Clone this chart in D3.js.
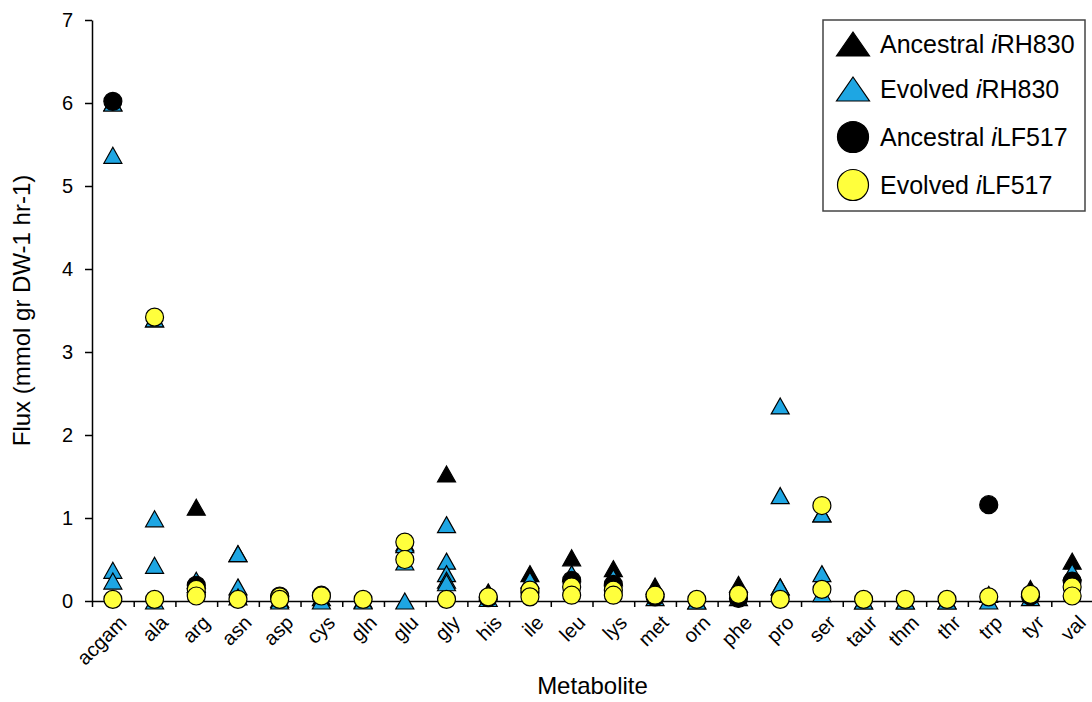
<!DOCTYPE html>
<html lang="en">
<head>
<meta charset="utf-8">
<title>Metabolite flux</title>
<script src="https://d3js.org/d3.v7.min.js"></script>
<style>
  body { margin: 0; background: #fff; }
  svg { font-family: "Liberation Sans", Arial, sans-serif; }
  .axis path, .axis line { stroke: #000; stroke-width: 1.5px; }
  .axis text { fill: #000; }
</style>
</head>
<body>
<svg width="1092" height="702"></svg>
<script>
// metabolites on the x axis
const categories = ["acgam","ala","arg","asn","asp","cys","gln","glu","gly","his","ile","leu",
                    "lys","met","orn","phe","pro","ser","taur","thm","thr","trp","tyr","val"];

// each entry = list of flux values at that metabolite (several conditions per model)
const ancestralRH = [[6.0],[3.40],[1.13,0.20],[0.57],[0.02],[0.04],[0.01],[0.70],[1.53],[0.11],[0.33],[0.52],
                     [0.39],[0.18],[0.0],[0.20],[0.17],[1.05],[0.0],[0.0],[0.0],[0.08],[0.15],[0.48]];
const evolvedRH   = [[6.0,5.37,0.37,0.24],[3.40,0.99,0.43,0.0],[0.25],[0.57,0.17,0.05],[0.0],[0.0],[0.0],
                     [0.68,0.47,0.0],[0.92,0.48,0.33,0.25,0.22],[0.03],[0.25],[0.33],[0.28],[0.04],[0.0],
                     [0.04],[2.35,1.27,0.17],[1.05,0.33,0.09],[0.0],[0.0],[0.0],[0.0],[0.04],[0.35]];
const ancestralLF = [[6.02],[],[0.19,0.08],[],[0.06],[0.07],[],[],[],[0.04],[0.10],[0.25],
                     [0.20],[0.05],[],[0.03],[],[],[],[],[],[1.16],[0.06],[0.24]];
const evolvedLF   = [[0.02],[3.42,0.02],[0.14,0.06],[0.02],[0.05,0.02],[0.06],[0.02],[0.71,0.50],[0.02],
                     [0.05],[0.13,0.05],[0.17,0.07],[0.13,0.07],[0.07],[0.02],[0.08],[0.02],[1.15,0.14],
                     [0.02],[0.02],[0.02],[0.05],[0.08],[0.17,0.06]];

const yTicks = [0,1,2,3,4,5,6,7];

const seriesNames = ["Ancestral ", "Evolved ", "Ancestral ", "Evolved "];
const seriesModels = ["RH830", "RH830", "LF517", "LF517"];

const svg = d3.select("svg");
const plotL = 92, plotR = 1093, plotT = 20, plotB = 601;

const x = d3.scaleBand().domain(categories).range([plotL, plotR]);
const xIdx = d3.scaleLinear().domain([0, categories.length]).range([plotL, plotR]);
const y = d3.scaleLinear().domain([0, 7]).range([plotB, plotT]);

// marker shapes
const triPath = (w, h) => `M0,${-h/2}L${w/2},${h/2}L${-w/2},${h/2}Z`;
const styles = [
  {shape: "tri", fill: "#000"},
  {shape: "tri", fill: "#1ea6e3"},
  {shape: "circ", fill: "#000"},
  {shape: "circ", fill: "#ffff3c"}
];
const allSeries = [ancestralRH, evolvedRH, ancestralLF, evolvedLF];

// y axis
svg.append("g")
   .attr("class", "axis")
   .attr("transform", `translate(${plotL},0)`)
   .call(d3.axisLeft(y).tickValues(yTicks).tickFormat(d3.format("d")).tickSize(7).tickSizeOuter(0).tickPadding(12))
   .selectAll("text").style("font-size", "20px");

// x axis: ticks between categories
svg.append("g")
   .attr("class", "axis")
   .attr("transform", `translate(0,${plotB})`)
   .call(d3.axisBottom(xIdx).tickValues(d3.range(0, categories.length + 1)).tickSize(6).tickSizeOuter(0).tickFormat(""));

svg.append("g")
   .selectAll("text")
   .data(categories)
   .join("text")
   .attr("transform", d => `translate(${x(d) + x.bandwidth()/2 + 5},${plotB + 13}) rotate(-45)`)
   .attr("text-anchor", "end")
   .attr("dy", "0.7em")
   .style("font-size", "20px")
   .text(d => d);

// points, drawn series by series
allSeries.forEach((ser, si) => {
  const pts = [];
  ser.forEach((vals, ci) => vals.forEach(v => pts.push({c: categories[ci], v})));
  const g = svg.append("g");
  if (styles[si].shape === "tri") {
    g.selectAll("path").data(pts).join("path")
     .attr("d", triPath(18, 16))
     .attr("transform", d => `translate(${x(d.c) + x.bandwidth()/2},${y(d.v)})`)
     .attr("fill", styles[si].fill)
     .attr("stroke", "#000").attr("stroke-width", 1.2);
  } else {
    g.selectAll("circle").data(pts).join("circle")
     .attr("cx", d => x(d.c) + x.bandwidth()/2)
     .attr("cy", d => y(d.v))
     .attr("r", 9)
     .attr("fill", styles[si].fill)
     .attr("stroke", "#000").attr("stroke-width", 1.2);
  }
});

// axis titles
svg.append("text")
   .attr("transform", `translate(30,${(plotT + plotB)/2}) rotate(-90)`)
   .attr("text-anchor", "middle")
   .style("font-size", "24px")
   .text("Flux (mmol gr DW-1 hr-1)");

svg.append("text")
   .attr("x", (plotL + plotR)/2)
   .attr("y", 694)
   .attr("text-anchor", "middle")
   .style("font-size", "24px")
   .text("Metabolite");

// legend
const lg = svg.append("g");
lg.append("rect")
  .attr("x", 823).attr("y", 20).attr("width", 262).attr("height", 191)
  .attr("fill", "#fff").attr("stroke", "#444").attr("stroke-width", 1.5);

const rows = [44, 89, 137, 185];
styles.forEach((s, i) => {
  if (s.shape === "tri") {
    lg.append("path").attr("d", triPath(33, 24))
      .attr("transform", `translate(853,${rows[i]})`)
      .attr("fill", s.fill).attr("stroke", "#000").attr("stroke-width", 1.2);
  } else {
    lg.append("circle").attr("cx", 853).attr("cy", rows[i]).attr("r", 15.5)
      .attr("fill", s.fill).attr("stroke", "#000").attr("stroke-width", 1.2);
  }
  const t = lg.append("text").attr("x", 880).attr("y", rows[i] + 9).style("font-size", "25px");
  t.append("tspan").text(seriesNames[i]);
  t.append("tspan").style("font-style", "italic").text("i");
  t.append("tspan").text(seriesModels[i]);
});
</script>
</body>
</html>
